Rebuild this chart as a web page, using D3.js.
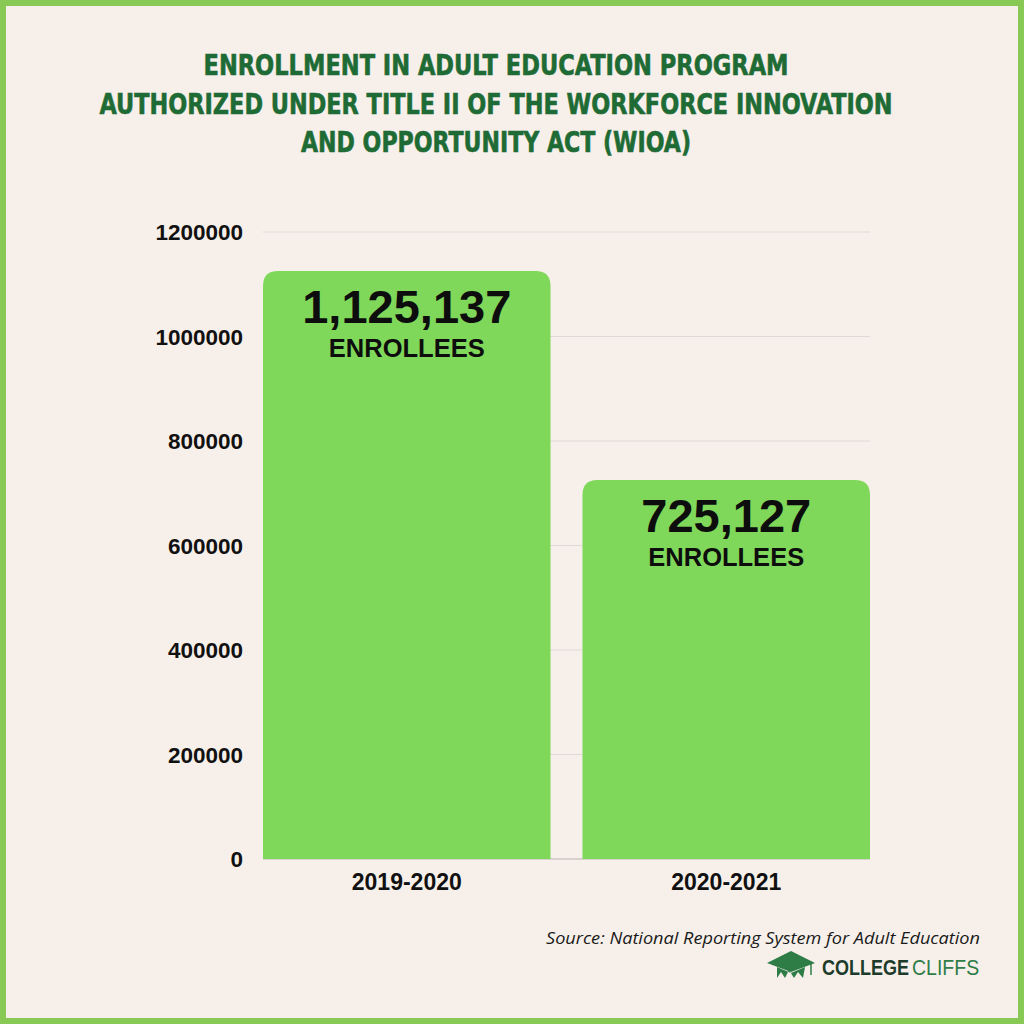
<!DOCTYPE html>
<html><head><meta charset="utf-8">
<script src="https://cdn.jsdelivr.net/npm/d3@7"></script>
<style>html,body{margin:0;padding:0;background:#f7f0ea;}</style>
</head><body>
<svg id="c" width="1024" height="1024"></svg>
<script>
const categories = ["2019-2020", "2020-2021"];
const values = [1125137, 725127];
const valueLabels = ["1,125,137", "725,127"];
const yTicks = [0, 200000, 400000, 600000, 800000, 1000000, 1200000];
const titleLines = ["ENROLLMENT IN ADULT EDUCATION PROGRAM", "AUTHORIZED UNDER TITLE II OF THE WORKFORCE INNOVATION", "AND OPPORTUNITY ACT (WIOA)"];
const titleWidths = [585, 793, 390];

const svg = d3.select("#c");
svg.append("rect").attr("x",0).attr("y",0).attr("width",1024).attr("height",1024).attr("fill","#f7f0ea");
svg.append("rect").attr("x",3).attr("y",3).attr("width",1018).attr("height",1018)
  .attr("fill","none").attr("stroke","#88c955").attr("stroke-width",6);

const tf = "'DejaVu Sans Condensed','DejaVu Sans',sans-serif";
svg.selectAll("text.title").data(titleLines).enter().append("text")
  .attr("x",(d,i)=>496 - titleWidths[i]/2).attr("y",(d,i)=>75+i*38.5)
  .attr("textLength",(d,i)=>titleWidths[i]).attr("lengthAdjust","spacingAndGlyphs")
  .attr("font-family",tf).attr("font-weight","bold").attr("font-size",28.5)
  .attr("fill","#1f6b35").attr("stroke","#1f6b35").attr("stroke-width",0.6).text(d=>d);

const x = d3.scaleBand().domain(categories).range([263,870]).paddingInner(0.1).paddingOuter(0);
const y = d3.scaleLinear().domain([0,1200000]).range([859,232]);

const g = svg.append("g");
g.selectAll("line.grid").data(yTicks).enter().append("line")
  .attr("x1",263).attr("x2",870).attr("y1",d=>y(d)).attr("y2",d=>y(d))
  .attr("stroke",d=>d===0?"#b8b4b0":"#dedad6").attr("stroke-width",1);

const af = "'Liberation Sans',Arial,sans-serif";
const yAxis = d3.axisLeft(y).tickValues(yTicks).tickFormat(d3.format("d")).tickSize(0).tickPadding(0);
const ya = svg.append("g").attr("transform","translate(243,0)").call(yAxis);
ya.select(".domain").remove();
ya.selectAll("text").attr("font-family",af).attr("font-weight","bold")
  .attr("font-size",22.5).attr("fill","#111").attr("dy","0.35em");

const xAxis = d3.axisBottom(x).tickSize(0).tickPadding(0);
const xa = svg.append("g").attr("transform","translate(0,890)").call(xAxis);
xa.select(".domain").remove();
xa.selectAll("text").attr("font-family",af).attr("font-weight","bold")
  .attr("font-size",23).attr("fill","#111").attr("dy",0).attr("y",0);

const r = 15;
function barPath(x0,w,top,bottom){
  return `M${x0},${bottom}V${top+r}Q${x0},${top} ${x0+r},${top}H${x0+w-r}Q${x0+w},${top} ${x0+w},${top+r}V${bottom}Z`;
}
const data = categories.map((c,i)=>({c,v:values[i],l:valueLabels[i]}));
svg.selectAll("path.bar").data(data).enter().append("path")
  .attr("d",d=>barPath(x(d.c),x.bandwidth(),y(d.v),y(0)))
  .attr("fill","#7fd85a");

svg.selectAll("text.val").data(data).enter().append("text")
  .attr("x",d=>x(d.c)+x.bandwidth()/2).attr("y",d=>y(d.v)+52)
  .attr("text-anchor","middle").attr("font-family",af)
  .attr("font-weight","bold").attr("font-size",47).attr("fill","#0d0d0d").text(d=>d.l);
svg.selectAll("text.unit").data(data).enter().append("text")
  .attr("x",d=>x(d.c)+x.bandwidth()/2).attr("y",d=>y(d.v)+86)
  .attr("text-anchor","middle").attr("font-family",af)
  .attr("font-weight","bold").attr("font-size",25.5).attr("fill","#0d0d0d").text("ENROLLEES");

svg.append("text").attr("x",980).attr("y",944).attr("text-anchor","end")
  .attr("font-family","'Open Sans',sans-serif").attr("font-style","italic").attr("font-size",17)
  .attr("fill","#1a1a1a").attr("textLength",434).attr("lengthAdjust","spacingAndGlyphs")
  .text("Source: National Reporting System for Adult Education");

// logo
const lg = svg.append("g").attr("transform","translate(767,951)");
lg.append("path").attr("d","M0,12 L24,0 L48,12 L24,21 Z").attr("fill","#2e7d46");
lg.append("path").attr("d","M10,16 L10,27 L14,21 L18,27 L22,19 L27,27 L31,21 L36,27 L38,16 L24,22 Z").attr("fill","#2e7d46");
lg.append("line").attr("x1",44).attr("y1",13).attr("x2",44).attr("y2",24).attr("stroke","#2e7d46").attr("stroke-width",1.5);
lg.append("text").attr("transform","translate(55,24) scale(1,1.2)").attr("font-family",af)
  .attr("font-size",18).attr("font-weight","bold").attr("fill","#1d3b2a").text("COLLEGE");
lg.append("text").attr("transform","translate(145,24) scale(1,1.1)").attr("font-family",af)
  .attr("font-size",19.5).attr("fill","#2f7d48").text("CLIFFS");
</script>
</body></html>
